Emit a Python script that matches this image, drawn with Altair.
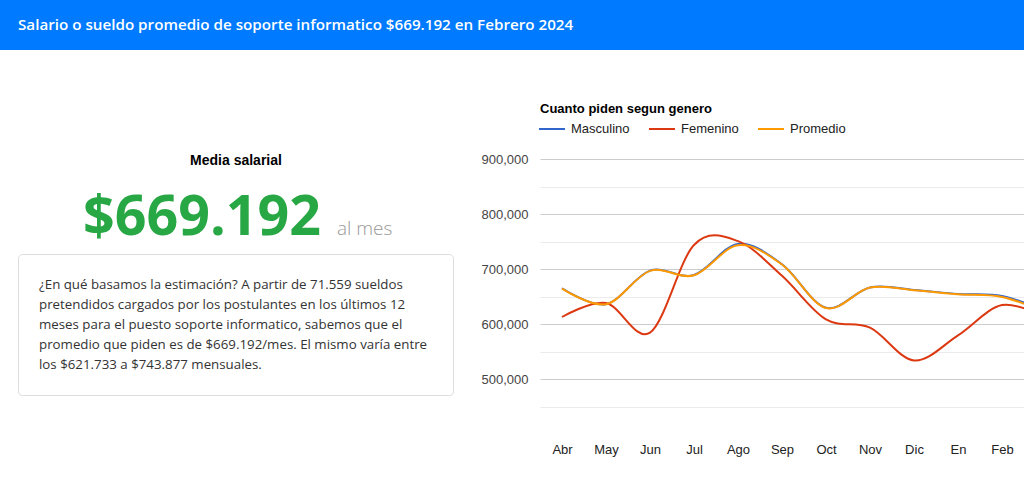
import altair as alt
import pandas as pd

# ---- data ----
months = ["Abr", "May", "Jun", "Jul", "Ago", "Sep", "Oct", "Nov", "Dic", "En", "Feb", "Mar"]
series = ["Masculino", "Femenino", "Promedio"]
masculino = [665500, 636500, 697500, 689500, 746000, 709000, 630000, 667000, 662500, 655000, 651500, 623000]
femenino = [613300, 638800, 584800, 744000, 751000, 688000, 609000, 594000, 534500, 580000, 635000, 612000]
promedio = [664900, 636400, 697000, 689000, 743600, 708500, 629700, 666700, 661800, 654500, 649700, 621000]
grid_values = [450000, 500000, 550000, 600000, 650000, 700000, 750000, 800000, 850000, 900000]

header_text = "Salario o sueldo promedio de soporte informatico $669.192 en Febrero 2024"
kpi_title = "Media salarial"
kpi_value = "$669.192"
kpi_unit = "al mes"
box_lines = [
    "¿En qué basamos la estimación? A partir de 71.559 sueldos",
    "pretendidos cargados por los postulantes en los últimos 12",
    "meses para el puesto soporte informatico, sabemos que el",
    "promedio que piden es de $669.192/mes. El mismo varía entre",
    "los $621.733 a $743.877 mensuales.",
]
chart_title = "Cuanto piden segun genero"
colors = ["#3366cc", "#dc3912", "#ff9900"]

rows = []
for name, vals in zip(series, [masculino, femenino, promedio]):
    for i, (m, v) in enumerate(zip(months, vals)):
        rows.append({"idx": i, "mes": m, "serie": name, "valor": v})
df = pd.DataFrame(rows)

visible_idx = [i for i in range(len(months)) if i <= 10]
label_expr = "[" + ",".join("'" + m + "'" for m in months) + "][datum.value]"

lines = alt.Chart(df).mark_line(interpolate="cardinal", strokeWidth=2, clip=True).encode(
    x=alt.X("idx:Q",
            scale=alt.Scale(domain=[-0.5, 10.5], nice=False, zero=False),
            axis=alt.Axis(values=visible_idx, labelExpr=label_expr, title=None, grid=False,
                          domain=False, ticks=False, labelFlush=False, labelPadding=36,
                          labelFont="Liberation Sans", labelFontSize=13, labelColor="#222222")),
    y=alt.Y("valor:Q",
            scale=alt.Scale(domain=[450000, 900000], nice=False, zero=False),
            axis=alt.Axis(values=grid_values, format=",d",
                          labelExpr="datum.value % 100000 === 0 ? datum.label : ''",
                          title=None, domain=False, ticks=False, labelPadding=12,
                          labelFont="Liberation Sans", labelFontSize=13, labelColor="#444444",
                          gridColor={"condition": {"test": "datum.value % 100000 === 0", "value": "#cccccc"},
                                     "value": "#ebebeb"},
                          gridWidth=1)),
    color=alt.Color("serie:N", sort=series,
                    scale=alt.Scale(domain=series, range=colors),
                    legend=alt.Legend(orient="none", legendX=-2, legendY=-44, direction="horizontal",
                                      title=None, symbolType="stroke", symbolSize=676,
                                      symbolStrokeWidth=2, labelFont="Liberation Sans",
                                      labelFontSize=13, labelColor="#222222", columnPadding=15,
                                      labelOffset=5)),
    detail="serie:N",
)


def txt(text, x, y, **kw):
    return alt.Chart(alt.Data(values=[{}])).mark_text(text=text, **kw).encode(
        x=alt.value(x), y=alt.value(y))


def box(x, x2, y, y2, **kw):
    return alt.Chart(alt.Data(values=[{}])).mark_rect(**kw).encode(
        x=alt.value(x), x2=alt.value(x2), y=alt.value(y), y2=alt.value(y2))


OX, OY = 540, 159  # plot origin in page pixels

header_bg = box(-OX, 1024 - OX, -OY, 50 - OY, fill="#007bff")
header = txt(header_text, 18 - OX, 30 - OY, align="left", baseline="alphabetic",
             font="Open Sans", fontSize=15.2, fontWeight=600, color="#ffffff")
kt = txt(kpi_title, 236 - OX, 165 - OY, align="center", baseline="alphabetic",
         font="Liberation Sans", fontSize=14, fontWeight="bold", color="#000000")
kv = txt(kpi_value, 83 - OX, 235 - OY, align="left", baseline="alphabetic",
         font="Open Sans", fontSize=55.5, fontWeight="bold", color="#28a745")
ku = txt(kpi_unit, 337 - OX, 235 - OY, align="left", baseline="alphabetic",
         font="Open Sans", fontSize=19, fontWeight=300, color="#999999")
card = box(18.5 - OX, 453.5 - OX, 254.5 - OY, 395.5 - OY, fill="#ffffff", stroke="#dddddd",
           strokeWidth=1, cornerRadius=4)
body = txt(box_lines, 39 - OX, 289 - OY, align="left", baseline="alphabetic",
           font="Open Sans", fontSize=13.3, lineHeight=20, color="#333333")
ct = txt(chart_title, 0, 113 - OY, align="left", baseline="alphabetic",
         font="Liberation Sans", fontSize=13, fontWeight="bold", color="#000000")

chart = alt.layer(header_bg, header, kt, kv, ku, card, body, ct, lines).properties(
    width=1024 - OX, height=407 - OY,
    autosize=alt.AutoSizeParams(type="none"),
    padding={"left": OX, "top": OY, "right": 0, "bottom": 70},
    background="#ffffff",
).configure_view(strokeWidth=0)

chart.save("out.html", embed_options={"renderer": "svg", "actions": False})
